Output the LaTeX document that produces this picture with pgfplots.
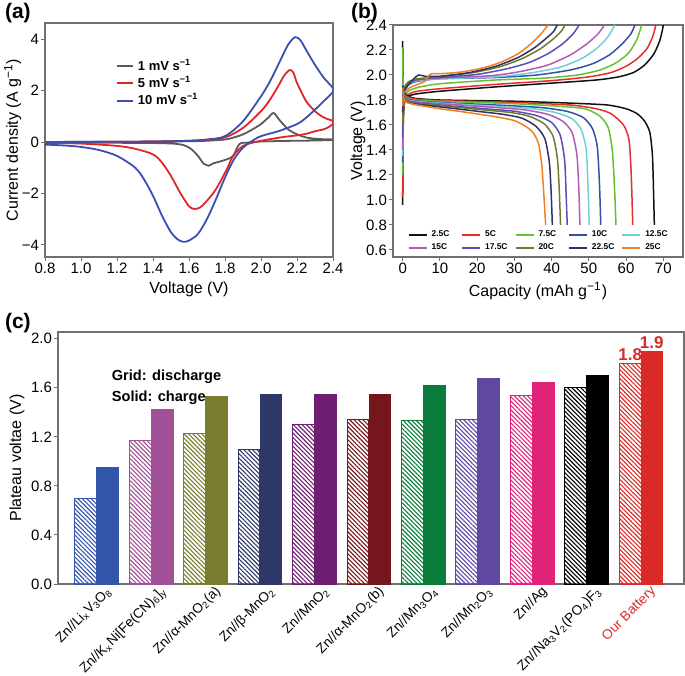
\documentclass[border=0pt]{standalone}
\usepackage{fontspec}
\setmainfont{Liberation Sans}
\usepackage{pgfplots}
\pgfplotsset{compat=1.18}
\usetikzlibrary{patterns.meta}

\definecolor{axgray}{HTML}{707070}
% panel a
\definecolor{cvgray}{HTML}{5A5A5A}
\definecolor{cvred}{HTML}{E0262A}
\definecolor{cvblue}{HTML}{3A4FB0}
% panel b
\definecolor{rA}{HTML}{111111}
\definecolor{rB}{HTML}{E52E2B}
\definecolor{rC}{HTML}{66C12F}
\definecolor{rD}{HTML}{3350A8}
\definecolor{rE}{HTML}{70CEDB}
\definecolor{rF}{HTML}{B25CB6}
\definecolor{rG}{HTML}{5B4DB6}
\definecolor{rH}{HTML}{6E7B2C}
\definecolor{rI}{HTML}{2B3468}
\definecolor{rJ}{HTML}{F47E22}
% panel c
\definecolor{bA}{HTML}{3355AA}
\definecolor{bB}{HTML}{A25198}
\definecolor{bC}{HTML}{7A7D2F}
\definecolor{bD}{HTML}{2D3868}
\definecolor{bE}{HTML}{6F1F71}
\definecolor{bF}{HTML}{75151C}
\definecolor{bG}{HTML}{097C3C}
\definecolor{bH}{HTML}{5E48A0}
\definecolor{bI}{HTML}{DF2379}
\definecolor{bJ}{HTML}{000000}
\definecolor{bK}{HTML}{DA2A28}

\pgfplotsset{
  every axis/.append style={
    scale only axis,
    axis line style={draw=axgray, line width=0.6pt},
    tick style={draw=axgray, line width=0.5pt},
    tick align=outside, major tick length=2pt,
    xtick pos=bottom, ytick pos=left,
    /pgf/number format/assume math mode=true,
    tick label style={font=\fontsize{7.5}{8.5}\selectfont, inner sep=0.8pt},
    label style={font=\fontsize{8}{9.5}\selectfont},
  },
}

% #1 group, #2 colour, #3 discharge, #4 charge
\newcommand\barpair[4]{%
  \addplot[ybar, bar width=0.4, bar shift=-0.2, draw=#2, line width=0.5pt,
    pattern={Lines[angle=-45,distance=1.55pt,line width=0.55pt]}, pattern color=#2]
    coordinates {(#1,#3)};
  \addplot[ybar, bar width=0.4, bar shift=0.2, draw=#2, line width=0.3pt, fill=#2]
    coordinates {(#1,#4)};
}

\begin{document}
\begin{tikzpicture}[font=\fontsize{7.5}{9}\selectfont]
\useasboundingbox (0,0) rectangle (342.5pt,337.5pt);

%---------------- (a) CV curves
\begin{axis}[
  at={(22.5pt,209pt)}, anchor=south west, width=144pt, height=117pt,
  xmin=0.8, xmax=2.4, ymin=-4.47, ymax=4.63,
  xtick={0.8,1,1.2,1.4,1.6,1.8,2,2.2,2.4},
  xticklabel style={/pgf/number format/.cd, fixed, fixed zerofill, precision=1},
  ytick={-4,-2,0,2,4}, yticklabels={−4,−2,0,2,4},
  xlabel={Voltage (V)}, ylabel={Current density (A g\textsuperscript{−1})},
  ylabel shift=-4pt,
  legend style={draw=none, fill=none, at={(0.245,0.865)}, anchor=north west,
    font=\bfseries\fontsize{6.5}{7.5}\selectfont, row sep=-2.5pt, inner sep=0pt},
  legend cell align=left,
  legend image code/.code={\draw[#1, line width=1pt] (0pt,0pt) -- (8pt,0pt);},
]
\addplot[cvgray, line width=0.9pt, smooth] coordinates {
(0.8,0.0) (1.0,0.01) (1.2,0.01) (1.4,0.02) (1.6,0.03) (1.7,0.05) (1.8,0.1) (1.85,0.18)
(1.9,0.3) (1.95,0.48) (2.0,0.7) (2.04,0.95) (2.07,1.13) (2.1,0.88) (2.15,0.5) (2.2,0.3)
(2.25,0.18) (2.3,0.13) (2.35,0.11) (2.4,0.1)
(2.4,0.08) (2.3,0.06) (2.2,0.05) (2.1,0.04) (2.0,0.02) (1.93,-0.02) (1.88,-0.08)
(1.845,-0.54) (1.81,-0.67) (1.77,-0.76) (1.73,-0.84) (1.71,-0.92) (1.68,-0.83)
(1.65,-0.54) (1.61,-0.26) (1.57,-0.12) (1.51,-0.06) (1.4,-0.04) (1.2,-0.03) (1.0,-0.03) (0.8,-0.03)
};
\addlegendentry{1 mV s\textsuperscript{−1}}
\addplot[cvred, line width=0.9pt, smooth] coordinates {
(0.8,0.0) (1.0,0.01) (1.2,0.01) (1.4,0.02) (1.6,0.05) (1.7,0.09) (1.8,0.18) (1.9,0.55)
(2.0,1.2) (2.05,1.65) (2.1,2.23) (2.13,2.6) (2.16,2.8) (2.18,2.7) (2.2,2.3) (2.25,1.6)
(2.3,1.2) (2.35,0.95) (2.4,0.82)
(2.4,0.72) (2.38,0.6) (2.35,0.5) (2.3,0.42) (2.25,0.32) (2.2,0.26) (2.15,0.22) (2.1,0.17)
(2.0,0.05) (1.95,-0.03) (1.9,-0.15) (1.845,-0.54) (1.81,-1.06) (1.75,-1.83) (1.7,-2.28)
(1.66,-2.55) (1.63,-2.6) (1.6,-2.5) (1.55,-1.96) (1.5,-1.32) (1.45,-0.8) (1.4,-0.48)
(1.3,-0.26) (1.2,-0.15) (1.0,-0.06) (0.8,-0.03)
};
\addlegendentry{5 mV s\textsuperscript{−1}}
\addplot[cvblue, line width=0.9pt, smooth] coordinates {
(0.8,-0.1) (0.82,-0.02) (0.9,0.0) (1.2,0.01) (1.4,0.02) (1.6,0.05) (1.7,0.1) (1.8,0.23)
(1.9,0.81) (2.0,1.78) (2.05,2.36) (2.1,3.07) (2.15,3.78) (2.19,4.08) (2.22,3.95)
(2.25,3.59) (2.3,3.0) (2.35,2.49) (2.4,2.1)
(2.4,1.95) (2.35,1.6) (2.3,1.26) (2.25,0.94) (2.2,0.7) (2.1,0.43) (2.0,0.23) (1.95,0.04)
(1.9,-0.22) (1.85,-0.67) (1.8,-1.38) (1.75,-2.22) (1.7,-2.99) (1.65,-3.57) (1.6,-3.83)
(1.57,-3.88) (1.54,-3.8) (1.5,-3.51) (1.45,-2.86) (1.4,-2.09) (1.35,-1.45) (1.3,-0.99)
(1.2,-0.54) (1.1,-0.31) (1.0,-0.19) (0.9,-0.13) (0.8,-0.1)
};
\addlegendentry{10 mV s\textsuperscript{−1}}
\end{axis}

%---------------- (b) charge / discharge
\begin{axis}[
  at={(196.5pt,209pt)}, anchor=south west, width=145pt, height=116pt,
  xmin=-2.6, xmax=75.3, ymin=0.544, ymax=2.4,
  xtick={0,10,20,30,40,50,60,70},
  ytick={0.6,0.8,1,1.2,1.4,1.6,1.8,2,2.2,2.4},
  yticklabel style={/pgf/number format/.cd, fixed, fixed zerofill, precision=1},
  xlabel={Capacity (mAh g\textsuperscript{−1})}, ylabel={Voltage (V)},
  ylabel shift=-4pt,
  every axis plot/.append style={line width=0.75pt, smooth, tension=0.4},
  legend columns=5,
  legend style={draw=none, fill=none, at={(0.05,0.0)}, anchor=south west,
    font=\bfseries\fontsize{4.2}{5}\selectfont, inner sep=0pt, row sep=-2pt,
    /tikz/every even column/.append style={column sep=0.8pt}},
  legend image code/.code={\draw[#1, line width=0.9pt] (0pt,0pt) -- (9pt,0pt);},
]
% charge curves
\addplot[rA, forget plot] coordinates {(0,0.96)(0.15,1.6)(0.5,1.78)(1.5,1.83)(4,1.85)(10,1.87)(25,1.905)(40,1.935)(52,1.96)(58,1.985)(62,2.02)(65,2.08)(67.5,2.17)(69,2.27)(69.7,2.35)(70,2.4)};
\addplot[rB, forget plot] coordinates {(0,1.02)(0.15,1.62)(0.5,1.79)(1.5,1.845)(4,1.87)(10,1.89)(25,1.925)(40,1.955)(50,1.985)(56,2.02)(60,2.07)(63,2.13)(65.6,2.21)(67.2,2.31)(68,2.4)};
\addplot[rC, forget plot] coordinates {(0,1.2)(0.15,1.7)(0.5,1.82)(1.5,1.87)(4,1.9)(10,1.93)(25,1.96)(38,1.975)(47,2.0)(53,2.04)(57.5,2.1)(60.8,2.18)(63,2.29)(64.2,2.4)};
\addplot[rD, forget plot] coordinates {(0,1.3)(0.15,1.75)(0.5,1.86)(1.5,1.92)(4,1.95)(10,1.97)(25,1.98)(36,2.0)(45,2.04)(51,2.09)(55.5,2.16)(59,2.25)(61.3,2.33)(62.4,2.4)};
\addplot[rE, forget plot] coordinates {(0,1.35)(0.15,1.78)(0.5,1.88)(1.5,1.93)(4,1.955)(10,1.97)(25,1.985)(34,2.015)(42,2.06)(48,2.13)(52,2.21)(55,2.3)(57,2.4)};
\addplot[rF, forget plot] coordinates {(0,1.4)(0.15,1.8)(0.5,1.89)(1.5,1.935)(4,1.96)(10,1.975)(24,1.995)(32,2.03)(39,2.08)(45,2.16)(49.5,2.25)(52.5,2.33)(54.2,2.4)};
\addplot[rG, forget plot] coordinates {(0,1.5)(0.15,1.82)(0.5,1.9)(1.5,1.94)(4,1.965)(10,1.98)(20,2.005)(28,2.05)(34,2.1)(39,2.17)(43,2.25)(45.8,2.33)(47.4,2.4)};
\addplot[rH, forget plot] coordinates {(0,1.6)(0.15,1.83)(0.5,1.9)(1.5,1.945)(4,1.97)(10,1.985)(19,2.02)(26,2.065)(32,2.13)(37,2.21)(40.5,2.29)(42.6,2.35)(43.6,2.4)};
\addplot[rI, forget plot] coordinates {(0,1.7)(0.15,1.84)(0.5,1.88)(1.5,1.92)(3,1.97)(4.3,2.0)(6,1.99)(10,1.99)(18,2.02)(25,2.07)(31,2.14)(35.5,2.22)(38.8,2.3)(40.6,2.35)(41.5,2.4)};
\addplot[rJ, forget plot] coordinates {(0,1.75)(0.15,1.83)(0.5,1.86)(2,1.9)(4,1.925)(6,1.95)(6.8,1.99)(7.8,2.01)(10,2.01)(16,2.025)(22,2.06)(27,2.11)(31,2.17)(34.5,2.25)(37.2,2.33)(38.5,2.38)(39.1,2.4)};
% discharge curves
\addplot[rA] coordinates {(0,2.27)(0.15,1.92)(0.6,1.85)(3,1.815)(10,1.80)(30,1.79)(45,1.775)(55,1.76)(60,1.73)(63,1.69)(65,1.63)(66.4,1.54)(67.1,1.35)(67.4,1.05)(67.6,0.8)};
\addlegendentry{\makebox[12pt][l]{2.5C}}
\addplot[rB] coordinates {(0,1.95)(0.15,1.9)(0.6,1.84)(3,1.81)(10,1.795)(30,1.78)(45,1.76)(52,1.73)(56,1.69)(59.3,1.60)(60.8,1.48)(61.4,1.2)(61.8,0.8)};
\addlegendentry{\makebox[12pt][l]{5C}}
\addplot[rC] coordinates {(0,2.22)(0.15,1.9)(0.6,1.83)(3,1.80)(10,1.79)(30,1.77)(42,1.75)(49,1.73)(53,1.67)(55.2,1.58)(56.3,1.4)(56.9,1.1)(57.3,0.8)};
\addlegendentry{\makebox[12pt][l]{7.5C}}
\addplot[rD] coordinates {(0,1.93)(0.15,1.88)(0.6,1.82)(3,1.795)(10,1.78)(25,1.76)(37,1.74)(44,1.71)(48.5,1.66)(51,1.57)(52.3,1.42)(52.9,1.1)(53.2,0.8)};
\addlegendentry{\makebox[12pt][l]{10C}}
\addplot[rE] coordinates {(0,1.93)(0.15,1.88)(0.6,1.81)(3,1.79)(10,1.775)(25,1.75)(35,1.73)(41,1.70)(45.5,1.65)(48,1.56)(49.3,1.4)(49.8,1.1)(50.1,0.8)};
\addlegendentry{\makebox[12pt][l]{12.5C}}
\addplot[rF] coordinates {(0,1.92)(0.15,1.87)(0.6,1.81)(3,1.785)(10,1.77)(25,1.74)(33,1.72)(39,1.685)(43,1.63)(45.5,1.54)(46.8,1.36)(47.3,1.1)(47.6,0.8)};
\addlegendentry{\makebox[12pt][l]{15C}}
\addplot[rG] coordinates {(0,1.92)(0.15,1.87)(0.6,1.80)(3,1.78)(10,1.76)(22,1.73)(30,1.71)(36,1.675)(40,1.62)(42.3,1.52)(43.5,1.32)(43.9,1.05)(44.2,0.8)};
\addlegendentry{\makebox[12pt][l]{17.5C}}
\addplot[rH] coordinates {(0,1.91)(0.15,1.86)(0.6,1.80)(3,1.775)(10,1.755)(22,1.72)(29,1.70)(34,1.67)(38,1.61)(40.4,1.51)(41.6,1.32)(42.1,1.05)(42.4,0.8)};
\addlegendentry{\makebox[12pt][l]{20C}}
\addplot[rI] coordinates {(0,1.91)(0.15,1.86)(0.6,1.79)(3,1.77)(10,1.745)(20,1.71)(27,1.685)(32,1.655)(35.8,1.59)(38.2,1.49)(39.4,1.3)(39.9,1.05)(40.2,0.8)};
\addlegendentry{\makebox[12pt][l]{22.5C}}
\addplot[rJ] coordinates {(0,1.9)(0.15,1.85)(0.6,1.79)(3,1.765)(10,1.73)(16,1.706)(25,1.666)(30,1.635)(33,1.59)(35,1.54)(36.5,1.45)(37.4,1.27)(38,1.0)(38.4,0.8)};
\addlegendentry{\makebox[12pt][l]{25C}}
\end{axis}

%---------------- (c) plateau voltages
\begin{axis}[
  at={(29pt,45.5pt)}, anchor=south west, width=313pt, height=126pt,
  xmin=-0.71, xmax=10.79, ymin=0, ymax=2.054,
  ytick={0,0.4,0.8,1.2,1.6,2.0},
  yticklabel style={/pgf/number format/.cd, fixed, fixed zerofill, precision=1},
  xtick={0,1,2,3,4,5,6,7,8,9,10},
  xtick style={draw=none},
  xticklabels={
    Zn//Li\textsubscript{x}V\textsubscript{3}O\textsubscript{8},
    Zn//K\textsubscript{x}Ni{[}Fe(CN)\textsubscript{6}{]}\textsubscript{y},
    Zn//α-MnO\textsubscript{2}(a),
    Zn//β-MnO\textsubscript{2},
    Zn//MnO\textsubscript{2},
    Zn//α-MnO\textsubscript{2}(b),
    Zn//Mn\textsubscript{3}O\textsubscript{4},
    Zn//Mn\textsubscript{2}O\textsubscript{3},
    Zn//Ag,
    Zn//Na\textsubscript{3}V\textsubscript{2}(PO\textsubscript{4})F\textsubscript{3},
    \textcolor{bK}{Our Battery}},
  xticklabel style={rotate=45, anchor=north east, xshift=5pt, yshift=-1pt,
    font=\fontsize{6.8}{8}\selectfont},
  ylabel={Plateau voltae (V)}, ylabel shift=-1pt,
]
\barpair{0}{bA}{0.70}{0.95}
\barpair{1}{bB}{1.17}{1.42}
\barpair{2}{bC}{1.23}{1.53}
\barpair{3}{bD}{1.10}{1.55}
\barpair{4}{bE}{1.30}{1.55}
\barpair{5}{bF}{1.34}{1.55}
\barpair{6}{bG}{1.33}{1.62}
\barpair{7}{bH}{1.34}{1.68}
\barpair{8}{bI}{1.54}{1.64}
\barpair{9}{bJ}{1.60}{1.70}
\addplot[ybar, bar width=0.4, bar shift=-0.2, draw=bK, line width=0.5pt,
  pattern={Lines[angle=-45,distance=1.55pt,line width=0.55pt]}, pattern color=bK,
  nodes near coords, every node near coord/.append style={font=\bfseries\fontsize{8.5}{9}\selectfont, text=bK, inner sep=1pt, xshift=-5.4pt}]
  coordinates {(10,1.8)};
\addplot[ybar, bar width=0.4, bar shift=0.2, draw=bK, line width=0.3pt, fill=bK,
  nodes near coords, every node near coord/.append style={font=\bfseries\fontsize{8.5}{9}\selectfont, text=bK, inner sep=1pt, xshift=5.4pt}]
  coordinates {(10,1.9)};
\node[anchor=north west, align=left, font=\bfseries\fontsize{7.3}{10.5}\selectfont]
  at (axis cs:0.15,1.80) {Grid: discharge\\Solid: charge};
\end{axis}

\node[anchor=north west, font=\bfseries\fontsize{10.5}{11}\selectfont] at (-1pt,339.5pt) {(a)};
\node[anchor=north west, font=\bfseries\fontsize{10.5}{11}\selectfont] at (172pt,339.5pt) {(b)};
\node[anchor=north west, font=\bfseries\fontsize{10.5}{11}\selectfont] at (-1pt,184.3pt) {(c)};
\end{tikzpicture}
\end{document}
